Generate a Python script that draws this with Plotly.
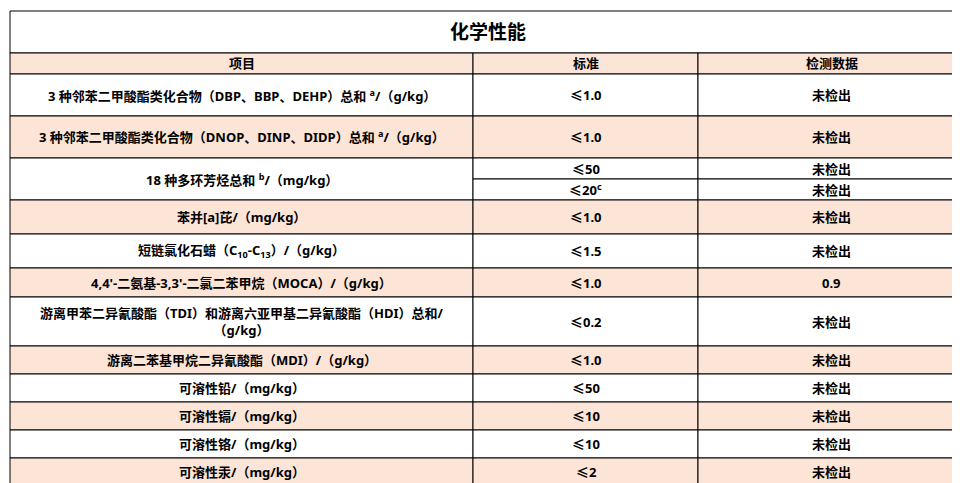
import plotly.graph_objects as go

title = "化学性能"
headers = ["项目", "标准", "检测数据"]
items = [
    "3 种邻苯二甲酸酯类化合物（DBP、BBP、DEHP）总和 <sup>a</sup>/（g/kg）",
    "3 种邻苯二甲酸酯类化合物（DNOP、DINP、DIDP）总和 <sup>a</sup>/（g/kg）",
    "18 种多环芳烃总和 <sup>b</sup>/（mg/kg）",
    "苯并[a]芘/（mg/kg）",
    "短链氯化石蜡（C<sub>10</sub>-C<sub>13</sub>）/（g/kg）",
    "4,4'-二氨基-3,3'-二氯二苯甲烷（MOCA）/（g/kg）",
    "游离甲苯二异氰酸酯（TDI）和游离六亚甲基二异氰酸酯（HDI）总和/<br>（g/kg）",
    "游离二苯基甲烷二异氰酸酯（MDI）/（g/kg）",
    "可溶性铅/（mg/kg）",
    "可溶性镉/（mg/kg）",
    "可溶性铬/（mg/kg）",
    "可溶性汞/（mg/kg）",
]
# 18种多环芳烃 has two sub-rows
standards = [["≤1.0"], ["≤1.0"], ["≤50", "≤20<sup>c</sup>"], ["≤1.0"], ["≤1.5"], ["≤1.0"],
             ["≤0.2"], ["≤1.0"], ["≤50"], ["≤10"], ["≤10"], ["≤2"]]
results = [["未检出"], ["未检出"], ["未检出", "未检出"], ["未检出"], ["未检出"], ["0.9"],
           ["未检出"], ["未检出"], ["未检出"], ["未检出"], ["未检出"], ["未检出"]]

# layout geometry (pixels, converted to paper fractions)
W, H = 960, 483
row_edges = [66, 108, 150, 192, 226, 260, 289, 338, 366, 394, 422, 450, 478]
col_edges = [2, 465, 690, 957]
top, head_y = 3, 45
peach = "#FCE4D6"
line = dict(color="#000000", width=1)
font = dict(family="Noto Sans, Noto Sans CJK SC", size=13, color="#000000")

shapes, annos = [], []

def px(x):
    return x / W

def py(y):
    return 1 - y / H

def cell(x0, x1, y0, y1, text, fill, size=13):
    shapes.append(dict(type="rect", xref="paper", yref="paper",
                       x0=px(x0), x1=px(x1), y0=py(y0), y1=py(y1),
                       fillcolor=fill, line=line, layer="below"))
    annos.append(dict(x=px((x0 + x1) / 2), y=py((y0 + y1) / 2), xref="paper", yref="paper",
                      xanchor="center", yanchor="middle",
                      text="<b>" + text + "</b>", showarrow=False,
                      font=dict(font, size=size)))

cell(col_edges[0], col_edges[3], top, head_y, title, "white", size=19)
for j, h in enumerate(headers):
    cell(col_edges[j], col_edges[j + 1], head_y, row_edges[0], h, peach)

for i, item in enumerate(items):
    y0, y1 = row_edges[i], row_edges[i + 1]
    fill = peach if i % 2 == 1 else "white"
    cell(col_edges[0], col_edges[1], y0, y1, item, fill)
    n = len(standards[i])
    step = (y1 - y0) / n
    for k in range(n):
        cell(col_edges[1], col_edges[2], y0 + k * step, y0 + (k + 1) * step, standards[i][k], fill)
        cell(col_edges[2], col_edges[3], y0 + k * step, y0 + (k + 1) * step, results[i][k], fill)

fig = go.Figure()
fig.update_layout(
    width=W, height=H, margin=dict(l=0, r=0, t=0, b=0, autoexpand=False),
    paper_bgcolor="white", plot_bgcolor="white",
    shapes=shapes, annotations=annos, showlegend=False,
)
fig.update_xaxes(visible=False, fixedrange=True)
fig.update_yaxes(visible=False, fixedrange=True)

fig.write_html("out.html")
